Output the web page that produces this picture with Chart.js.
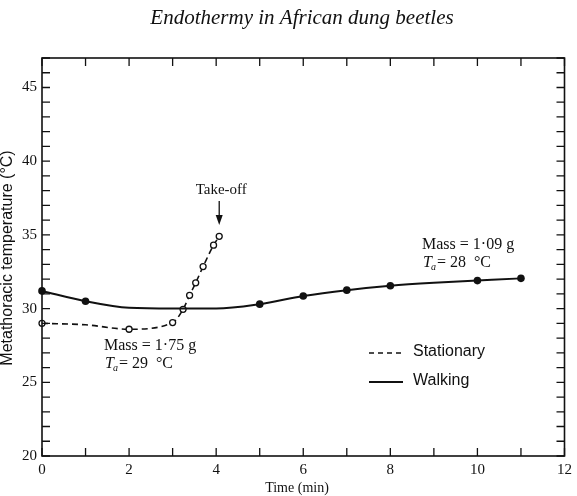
<!DOCTYPE html>
<html lang="en">
<head>
    <meta charset="UTF-8">
    <title>Endothermy in African dung beetles</title>
    <script src="https://cdn.jsdelivr.net/npm/chart.js"></script>
    <style>
        html, body { margin: 0; padding: 0; background: #fff; }
        #wrap { width: 577px; height: 496px; position: relative; }
    </style>
</head>
<body>
    <div id="wrap"><canvas id="beetleChart"></canvas></div>

    <script>
        // walking beetle (solid line, filled dots)
        const walkTime = [0, 1, 2, 3, 4, 5, 6, 7, 8, 9, 10, 11];
        const walkTemp = [31.2, 30.5, 30.05, 30.0, 30.0, 30.3, 30.85, 31.25, 31.55, 31.75, 31.9, 32.05];
        const walkMeasured = [0, 1, 5, 6, 7, 8, 10, 11];

        // stationary beetle until take-off (dashed line, open dots)
        const statTime = [0, 1, 2, 3.0, 3.24, 3.39, 3.53, 3.7, 3.94, 4.07];
        const statTemp = [29.0, 28.9, 28.6, 29.05, 29.95, 30.9, 31.75, 32.85, 34.3, 34.9];
        const statMeasured = [0, 2, 3.0, 3.24, 3.39, 3.53, 3.7, 3.94, 4.07];

        const xTicks = [0, 2, 4, 6, 8, 10, 12];
        const yTicks = [20, 25, 30, 35, 40, 45];

        const serif = '"Liberation Serif", "DejaVu Serif", serif';
        const sans = '"Liberation Sans", Arial, sans-serif';

        function toPoints(xs, ys) {
            return xs.map((x, i) => ({ x: x, y: ys[i] }));
        }

        // frame, inward ticks on all four sides, texts and legend
        const paperPlugin = {
            id: 'paper',
            afterDraw(chart) {
                const ctx = chart.ctx;
                const a = chart.chartArea;
                const xs = chart.scales.x, ys = chart.scales.y;
                ctx.save();
                ctx.strokeStyle = '#111';
                ctx.lineWidth = 1.6;
                ctx.strokeRect(a.left, a.top, a.right - a.left, a.bottom - a.top);

                ctx.lineWidth = 1.3;
                ctx.beginPath();
                for (let v = 0; v <= 12; v++) {
                    const px = xs.getPixelForValue(v);
                    ctx.moveTo(px, a.bottom); ctx.lineTo(px, a.bottom - 8);
                    ctx.moveTo(px, a.top); ctx.lineTo(px, a.top + 8);
                }
                for (let v = 20; v <= 47; v++) {
                    const py = ys.getPixelForValue(v);
                    ctx.moveTo(a.left, py); ctx.lineTo(a.left + 8, py);
                    ctx.moveTo(a.right, py); ctx.lineTo(a.right - 8, py);
                }
                ctx.stroke();

                ctx.fillStyle = '#111';
                // title
                ctx.font = 'italic 21px ' + serif;
                ctx.textAlign = 'center';
                ctx.textBaseline = 'middle';
                ctx.fillText('Endothermy in African dung beetles', 302, 18);

                // axis titles
                ctx.font = '14px ' + serif;
                ctx.fillText('Time (min)', 297, 488);
                ctx.save();
                ctx.translate(8, 258);
                ctx.rotate(-Math.PI / 2);
                ctx.font = '16px ' + sans;
                ctx.fillText('Metathoracic temperature (\u00b0C)', 0, 0);
                ctx.restore();

                // take-off mark
                const tx = xs.getPixelForValue(4.07);
                ctx.font = '15px ' + serif;
                ctx.fillText('Take-off', tx + 2, 190);
                ctx.lineWidth = 1.3;
                ctx.beginPath();
                ctx.moveTo(tx, 201); ctx.lineTo(tx, 218);
                ctx.stroke();
                ctx.beginPath();
                ctx.moveTo(tx - 3.5, 215); ctx.lineTo(tx + 3.5, 215); ctx.lineTo(tx, 225);
                ctx.closePath();
                ctx.fill();

                // mass / ambient temperature notes
                ctx.textAlign = 'left';
                ctx.font = '16px ' + serif;
                ctx.fillText('Mass = 1\u00b775 g', 104, 346);
                ctx.fillText('Mass = 1\u00b709 g', 422, 245);
                drawTa(ctx, 105, 364, '29');
                drawTa(ctx, 423, 263, '28');

                // legend
                ctx.lineWidth = 1.6;
                ctx.setLineDash([5, 4]);
                ctx.beginPath();
                ctx.moveTo(369, 353); ctx.lineTo(403, 353);
                ctx.stroke();
                ctx.setLineDash([]);
                ctx.lineWidth = 2;
                ctx.beginPath();
                ctx.moveTo(369, 382); ctx.lineTo(403, 382);
                ctx.stroke();
                ctx.font = '16px ' + sans;
                ctx.fillText('Stationary', 413, 352);
                ctx.fillText('Walking', 413, 381);
                ctx.restore();
            }
        };

        function drawTa(ctx, x, y, t) {
            ctx.font = 'italic 16px ' + serif;
            ctx.fillText('T', x, y);
            let w = ctx.measureText('T').width;
            ctx.font = 'italic 10px ' + serif;
            ctx.fillText('a', x + w - 1, y + 4);
            w += ctx.measureText('a').width;
            ctx.font = '16px ' + serif;
            ctx.fillText('= ' + t + '  \u00b0C', x + w, y);
        }

        const ctx = document.getElementById('beetleChart').getContext('2d');
        const beetleChart = new Chart(ctx, {
            type: 'line',
            data: {
                datasets: [
                    {
                        label: 'Walking',
                        data: toPoints(walkTime, walkTemp),
                        borderColor: '#111',
                        backgroundColor: '#111',
                        borderWidth: 2,
                        cubicInterpolationMode: 'monotone',
                        pointRadius: c => walkMeasured.includes(walkTime[c.dataIndex]) ? 3.8 : 0,
                        pointBorderWidth: 0,
                        clip: false
                    },
                    {
                        label: 'Stationary',
                        data: toPoints(statTime, statTemp),
                        borderColor: '#111',
                        backgroundColor: '#fff',
                        borderWidth: 1.6,
                        borderDash: [6, 4],
                        cubicInterpolationMode: 'monotone',
                        pointRadius: c => statMeasured.includes(statTime[c.dataIndex]) ? 3 : 0,
                        pointBorderColor: '#111',
                        pointBackgroundColor: '#fff',
                        pointBorderWidth: 1.3,
                        clip: false
                    }
                ]
            },
            options: {
                responsive: true,
                maintainAspectRatio: false,
                animation: false,
                layout: { padding: { top: 58, right: 12, left: 0, bottom: 0 } },
                plugins: {
                    legend: { display: false },
                    tooltip: { enabled: false }
                },
                scales: {
                    x: {
                        type: 'linear',
                        min: 0,
                        max: 12,
                        grid: { display: false, drawTicks: false },
                        border: { display: false },
                        afterFit: s => { s.height = 40; },
                        afterBuildTicks: s => { s.ticks = xTicks.map(v => ({ value: v })); },
                        ticks: {
                            color: '#111',
                            padding: 5,
                            maxRotation: 0,
                            font: { family: serif, size: 15 }
                        }
                    },
                    y: {
                        min: 20,
                        max: 47,
                        grid: { display: false, drawTicks: false },
                        border: { display: false },
                        afterFit: s => { s.width = 42; },
                        afterBuildTicks: s => { s.ticks = yTicks.map(v => ({ value: v })); },
                        ticks: {
                            color: '#111',
                            padding: 5,
                            font: { family: serif, size: 15 }
                        }
                    }
                }
            },
            plugins: [paperPlugin]
        });
    </script>
</body>
</html>
